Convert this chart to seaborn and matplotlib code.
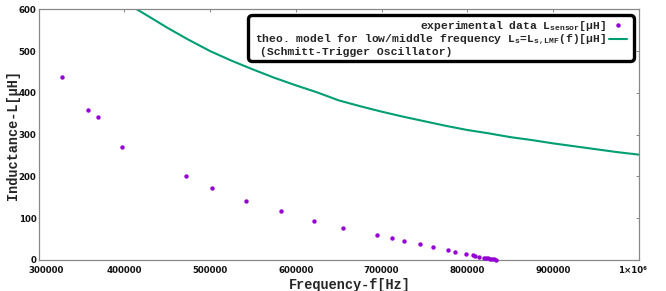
import matplotlib
matplotlib.use("Agg")
import matplotlib.pyplot as plt
import matplotlib.transforms as mtransforms
import seaborn as sns
import pandas as pd
from matplotlib.lines import Line2D
from matplotlib.patches import BoxStyle

exp_freq = [327300, 358000, 369000, 397000, 471600, 502700, 541600, 583200,
            621000, 655200, 695200, 712400, 726700, 745000, 760600, 778000,
            785900, 798700, 806500, 809200, 813500, 819100, 822000, 824400,
            826700, 829000, 831400, 833700]
exp_L = [439, 360, 341, 270, 201, 173, 141, 116,
         94, 77, 60, 52, 46, 37, 30, 23,
         19.6, 14.1, 10.5, 10, 7, 5.5, 4.3, 3.3,
         2.4, 1.7, 1.0, 0.4]

# theoretical model curve
model_freq = [414500, 430000, 450000, 475000, 500000, 525000, 550000, 575000,
              600000, 625000, 650000, 675000, 700000, 725000, 750000, 775000,
              800000, 825000, 850000, 875000, 900000, 925000, 950000, 975000,
              1000000]
model_L = [600, 581, 556, 527, 500, 477, 456, 436,
           418, 401, 382, 368, 355, 343, 332, 321,
           311, 303, 294, 287, 279, 272, 265, 258,
           252]

x_ticks = [300000, 400000, 500000, 600000, 700000, 800000, 900000, 1000000]
x_ticklabels = ["300000", "400000", "500000", "600000", "700000", "800000",
                "900000", "1×10⁶"]
y_ticks = [0, 100, 200, 300, 400, 500, 600]
y_ticklabels = ["0", "100", "200", "300", "400", "500", "600"]

label_exp = r"experimental data L$_{\mathrm{sensor}}$[μH]"
label_model = r"theo. model for low/middle frequency L$_{\mathrm{s}}$=L$_{\mathrm{s,LMF}}$(f)[μH]"
label_extra = "(Schmitt-Trigger Oscillator)"

sns.set_theme(style="white")
plt.rcParams["font.family"] = ["Liberation Mono", "DejaVu Sans"]
plt.rcParams["mathtext.fontset"] = "custom"
plt.rcParams["mathtext.rm"] = "Liberation Mono:bold"
plt.rcParams["mathtext.it"] = "Liberation Mono:bold"
plt.rcParams["mathtext.bf"] = "Liberation Mono:bold"

df_exp = pd.DataFrame({"f": exp_freq, "L": exp_L})
df_model = pd.DataFrame({"f": model_freq, "L": model_L})

fig, ax = plt.subplots(figsize=(6.66, 2.91), dpi=100)
fig.subplots_adjust(left=0.058, right=0.959, top=0.968, bottom=0.107)

sns.lineplot(data=df_model, x="f", y="L", ax=ax, color="#009E73",
             linewidth=1.5, legend=False)
sns.scatterplot(data=df_exp, x="f", y="L", ax=ax, color="#9400D3", s=10,
                linewidth=0, legend=False, clip_on=False, zorder=3)

ax.set_xlim(300000, 1000000)
ax.set_ylim(0, 600)
tick_font = {"family": "DejaVu Sans", "weight": "bold", "size": 6.2}
ax.set_xticks(x_ticks, labels=x_ticklabels, fontdict=tick_font)
ax.set_yticks(y_ticks, labels=y_ticklabels, fontdict=tick_font)

ax.tick_params(axis="both", direction="in", length=2.5, width=0.7,
               color="#888888", labelcolor="#111111", top=True, right=True)
ax.tick_params(axis="x", pad=4.4)
ax.tick_params(axis="y", pad=1.6)
for sp in ax.spines.values():
    sp.set_color("#888888")
    sp.set_linewidth(0.9)

# the outer x labels are pulled inwards a little in the original
xlabs = ax.get_xticklabels()
xlabs[0].set_transform(xlabs[0].get_transform() +
                       mtransforms.ScaledTranslation(8 / 100, 0, fig.dpi_scale_trans))
xlabs[-1].set_transform(xlabs[-1].get_transform() +
                        mtransforms.ScaledTranslation(-6 / 100, 0, fig.dpi_scale_trans))

ax.set_xlabel("Frequency-f[Hz]", fontsize=9.8, fontweight="bold")
ax.set_ylabel("Inductance-L[μH]", fontsize=9.8, fontweight="bold")
ax.xaxis.set_label_coords(0.518, -0.073)
ax.yaxis.set_label_coords(-0.031, 0.5)

h_exp = Line2D([], [], marker="o", linestyle="", color="#9400D3", markersize=3.2,
               markeredgewidth=0)
h_model = Line2D([], [], color="#009E73", linewidth=1.5)
h_blank = Line2D([], [], linestyle="", marker="")
leg = ax.legend([h_exp, h_model, h_blank], [label_exp, label_model, label_extra],
                loc="upper right", bbox_to_anchor=(0.9875, 0.978),
                markerfirst=False, frameon=True,
                prop={"family": "Liberation Mono", "weight": "bold", "size": 8.2},
                handlelength=1.55, handletextpad=0.25, labelspacing=-0.02,
                borderpad=0.38, borderaxespad=0.0)


def wide_round(x0, y0, width, height, mutation_size):
    # rounded frame with a bit more room left and right than top and bottom
    dx = 0.28 * mutation_size
    return BoxStyle.Round(pad=0.0, rounding_size=0.4)(
        x0 - dx, y0, width + 2 * dx, height, mutation_size)


frame = leg.get_frame()
frame.set_edgecolor("black")
frame.set_linewidth(2.4)
frame.set_alpha(1)
frame.set_boxstyle(wide_round)

# third legend line sits on the left like in the original key
fig.canvas.draw()
texts = leg.get_texts()
ext2 = texts[1].get_window_extent()
ext3 = texts[2].get_window_extent()
texts[2].set_x(ext2.x0 + 5 - ext3.x0)

fig.savefig("out.png", dpi=100)
